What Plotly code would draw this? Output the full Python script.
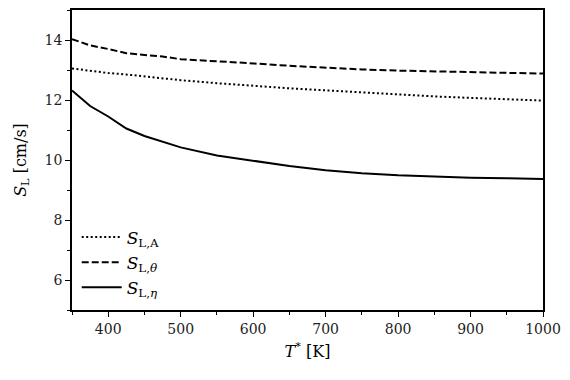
import plotly.graph_objects as go

T = [350, 375, 400, 425, 450, 475, 500, 550, 600, 650, 700, 750, 800, 850, 900, 950, 1000]
S_A = [13.05, 12.97, 12.90, 12.85, 12.78, 12.72, 12.66, 12.56, 12.47, 12.39, 12.32, 12.25, 12.18, 12.12, 12.07, 12.02, 11.98]
S_theta = [14.03, 13.82, 13.70, 13.56, 13.50, 13.45, 13.36, 13.30, 13.22, 13.14, 13.07, 13.02, 12.98, 12.95, 12.92, 12.90, 12.88]
S_eta = [12.32, 11.80, 11.45, 11.05, 10.80, 10.60, 10.42, 10.15, 9.97, 9.80, 9.66, 9.56, 9.49, 9.44, 9.41, 9.39, 9.37]

FONT = "DejaVu Serif, Liberation Serif, serif"

fig = go.Figure()
fig.add_trace(go.Scatter(x=T, y=S_A, mode="lines", name="<i>S</i><sub>L,A</sub>",
                         line=dict(color="black", width=2, dash="2px,2.5px")))
fig.add_trace(go.Scatter(x=T, y=S_theta, mode="lines", name="<i>S</i><sub>L,<i>θ</i></sub>",
                         line=dict(color="black", width=2, dash="7px,3px")))
fig.add_trace(go.Scatter(x=T, y=S_eta, mode="lines", name="<i>S</i><sub>L,<i>η</i></sub>",
                         line=dict(color="black", width=2)))

axis_common = dict(showgrid=False, zeroline=False, showline=True, linecolor="black", linewidth=1.5,
                   mirror=True, ticks="outside", ticklen=5, tickwidth=1, tickcolor="black",
                   tickfont=dict(family=FONT, size=14, color="#222"))

fig.update_xaxes(range=[350, 1000], dtick=100, tick0=0,
                 minor=dict(ticks="outside", ticklen=3, dtick=50, tick0=0, tickcolor="black"),
                 title=dict(text="<i>T</i><sup>*</sup> [K]", font=dict(family=FONT, size=16, color="black"), standoff=10),
                 **axis_common)
fig.update_yaxes(range=[5, 15], dtick=2, tick0=0,
                 minor=dict(ticks="outside", ticklen=3, dtick=1, tick0=0, tickcolor="black"),
                 title=dict(text="<i>S</i><sub>L</sub> [cm/s]", font=dict(family=FONT, size=16, color="black"), standoff=14),
                 **axis_common)

fig.update_layout(
    width=562, height=372,
    margin=dict(l=64, r=27, t=0, b=70),
    plot_bgcolor="white", paper_bgcolor="white",
    legend=dict(x=0.01, y=0.015, xanchor="left", yanchor="bottom", bgcolor="rgba(0,0,0,0)",
                font=dict(family=FONT, size=17, color="black"), tracegroupgap=0, itemwidth=40),
    showlegend=True,
)

fig.write_html("out.html")
